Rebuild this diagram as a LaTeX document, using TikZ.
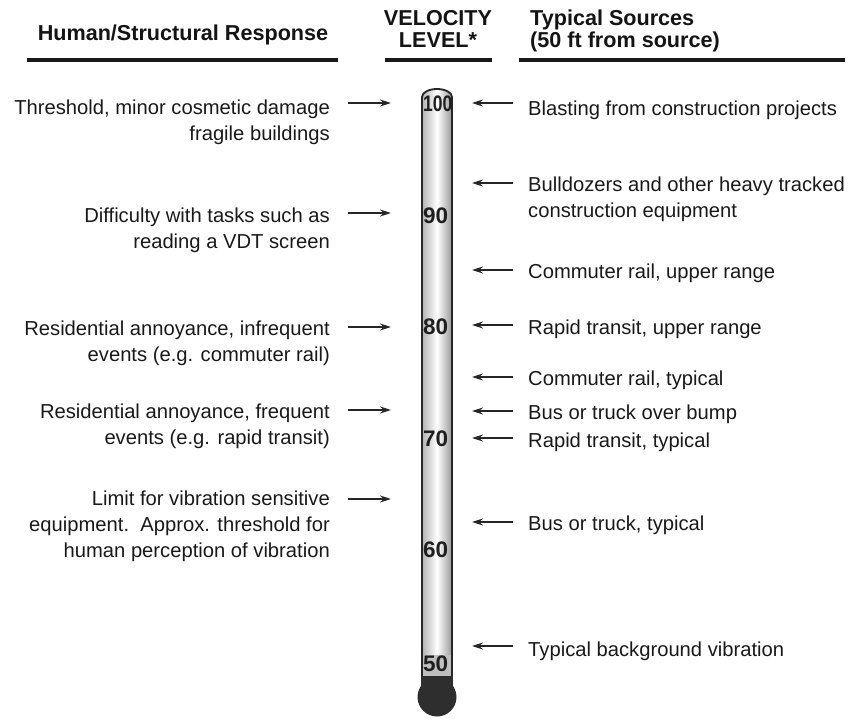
\documentclass[tikz,border=0pt]{standalone}
\usepackage{fontspec}
\setmainfont{Liberation Sans}
\usetikzlibrary{arrows.meta}
\begin{document}
\begin{tikzpicture}[x=1pt,y=-1pt,
  txt/.style={inner sep=0pt, font=\fontsize{20.2}{26}\selectfont, text=black!90},
  lt/.style={txt, anchor=north east, align=right},
  rt/.style={txt, anchor=north west, align=left},
  hdr/.style={inner sep=0pt, font=\bfseries\fontsize{21.6}{26}\selectfont, text=black!92},
  num/.style={inner sep=0pt, anchor=west, font=\bfseries\fontsize{22.5}{24}\selectfont, text=black!88},
  arr/.style={draw=black!85, line width=1.4pt, -{Stealth[length=11pt,width=7pt]}},
  hrule/.style={line width=4pt, black!90}
]
\useasboundingbox (0,0) rectangle (849,719);

% headers
\node[hdr, anchor=base] (h1) at (183,41) {Human/Structural Response};
\node[hdr, anchor=base] (h2a) at (438,26) {VELOCITY};
\node[hdr, anchor=base] (h2b) at (438,48) {LEVEL*};
\node[hdr, anchor=base west] (h3a) at (530,26) {Typical Sources};
\node[hdr, anchor=base west] (h3b) at (530,48) {(50 ft from source)};
\coordinate (r1a) at (27,60); \coordinate (r1b) at (338,60);
\coordinate (r2a) at (385,60); \coordinate (r2b) at (492,60);
\coordinate (r3a) at (519,60); \coordinate (r3b) at (845,60);
\draw[hrule] (r1a) -- (r1b);
\draw[hrule] (r2a) -- (r2b);
\draw[hrule] (r3a) -- (r3b);

% thermometer
\shade[left color=gray!60, right color=gray!80, middle color=white]
  (422,676) -- (422,97) arc[start angle=180,end angle=360,x radius=15,y radius=8] -- (452,676) -- cycle;
\fill[gray!50] (422,655) rectangle (452,676);
\draw[black!85, line width=1.8pt]
  (422,676) -- (422,97) arc[start angle=180,end angle=360,x radius=15,y radius=8] -- (452,676);
\fill[black!82] (421.1,676) rectangle (452.9,690);
\fill[black!82] (437,697) circle (19.5);

\node[num] (n100) at (423,104) {\scalebox{0.78}[1]{100}};
\node[num] (n90) at (423,215.5) {90};
\node[num] (n80) at (423,327) {80};
\node[num] (n70) at (423,438.5) {70};
\node[num] (n60) at (423,550) {60};
\node[num] (n50) at (423,664) {50};

% left texts
\node[lt] (L1) at (330,100) {Threshold, minor cosmetic damage\\fragile buildings};
\node[lt] (L2) at (330,208) {Difficulty with tasks such as\\reading a VDT screen};
\node[lt] (L3) at (330,321) {Residential annoyance, infrequent\\events (e.g. commuter rail)};
\node[lt] (L4) at (330,404) {Residential annoyance, frequent\\events (e.g. rapid transit)};
\node[lt] (L5) at (330,491) {Limit for vibration sensitive\\equipment.\ \ Approx. threshold for\\human perception of vibration};

% right texts
\node[rt] (R1) at (528,101) {Blasting from construction projects};
\node[rt] (R2) at (528,177) {Bulldozers and other heavy tracked\\construction equipment};
\node[rt] (R3) at (528,264) {Commuter rail, upper range};
\node[rt] (R4) at (528,320) {Rapid transit, upper range};
\node[rt] (R5) at (528,371) {Commuter rail, typical};
\node[rt] (R6) at (528,405) {Bus or truck over bump};
\node[rt] (R7) at (528,433) {Rapid transit, typical};
\node[rt] (R8) at (528,516) {Bus or truck, typical};
\node[rt] (R9) at (528,642) {Typical background vibration};

% left arrows
\foreach \n/\y in {a/103,b/213,c/327,d/410,e/499}{
  \coordinate (la\n) at (348,\y); \coordinate (lb\n) at (391,\y);
  \draw[arr] (la\n) -- (lb\n);
}
% right arrows
\foreach \n/\y in {a/103,b/183,c/270,d/325,e/377,f/411,g/438,h/522,i/646}{
  \coordinate (ra\n) at (513,\y); \coordinate (rb\n) at (472,\y);
  \draw[arr] (ra\n) -- (rb\n);
}
\end{tikzpicture}
\end{document}
